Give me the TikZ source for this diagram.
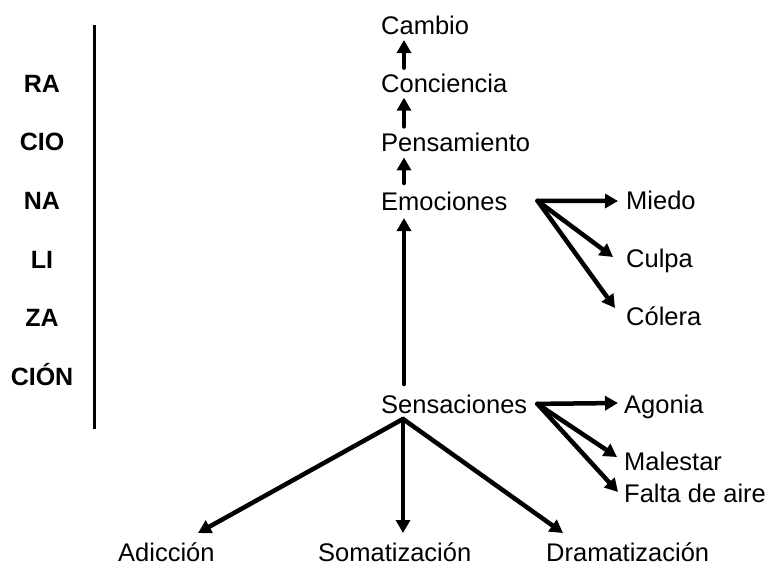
\documentclass[tikz,border=0pt]{standalone}
\usepackage{fontspec}
\setmainfont{Liberation Sans}
\usetikzlibrary{arrows.meta}
\tikzset{
  lbl/.style={font=\fontsize{25.5}{30}\selectfont, inner sep=0pt, anchor=base west},
  syl/.style={font=\fontsize{25}{30}\selectfont\bfseries, inner sep=0pt, anchor=base},
  arr/.style={line width=4.5pt, line cap=round, line join=round,
    -{Triangle[length=13pt,width=14pt]}},
}
\begin{document}
\begin{tikzpicture}[x=1pt,y=-1pt]
    \useasboundingbox (0,0) rectangle (769,566);
    % syllables on the left
    \foreach \s [count=\i] in {RA,CIO,NA,LI,ZA,CIÓN}
      \node [syl] (syl\i) at (42, {33.3+58.7*\i}) {\s};
    \draw [line width=3pt] (94,25) coordinate (bartop) -- (94,429) coordinate (barbot);
    % main column
    \node [lbl] (cam) at (381,34) {Cambio};
    \node [lbl] (con) at (381,92.7) {Conciencia};
    \node [lbl] (pen) at (381,151.4) {Pensamiento};
    \node [lbl] (emo) at (381,210) {Emociones};
    \node [lbl] (sen) at (381,413) {Sensaciones};
    % right branches
    \node [lbl] (mie) at (626,209) {Miedo};
    \node [lbl] (cul) at (626,267) {Culpa};
    \node [lbl] (col) at (626,325) {Cólera};
    \node [lbl] (ago) at (624,413) {Agonia};
    \node [lbl] (mal) at (624,470) {Malestar};
    \node [lbl] (fal) at (624,502) {Falta de aire};
    % bottom row
    \node [lbl] (adi) at (118,561) {Adicción};
    \node [lbl] (som) at (318,561) {Somatización};
    \node [lbl] (dra) at (546,561) {Dramatización};
    % upward chain
    \draw [arr] ([shift={(23,-25)}]con.base west) -- ([shift={(23,6)}]cam.base west);
    \draw [arr] ([shift={(23,-25)}]pen.base west) -- ([shift={(23,5)}]con.base west);
    \draw [arr] ([shift={(23,-27)}]emo.base west) -- ([shift={(23,6)}]pen.base west);
    \draw [arr] ([shift={(23,-29)}]sen.base west) -- ([shift={(23,8)}]emo.base west);
    % fans
    \coordinate (emoR) at ([xshift=30pt]emo.east);
    \coordinate (senR) at ([xshift=10pt]sen.east);
    \draw [arr] (emoR) -- ([shift={(-8,-8)}]mie.base west);
    \draw [arr] (emoR) -- ([shift={(-13,-10)}]cul.base west);
    \draw [arr] (emoR) -- ([shift={(-11,-17)}]col.base west);
    \draw [arr] (senR) -- ([shift={(-6,-10)}]ago.base west);
    \draw [arr] (senR) -- ([shift={(-7,-13)}]mal.base west);
    \draw [arr] (senR) -- ([shift={(-6,-10)}]fal.base west);
    % down to the bottom row
    \coordinate (apex) at ([shift={(22,6)}]sen.base west);
    \draw [arr] (apex) -- ([shift={(80,-28)}]adi.base west);
    \draw [arr] (apex) -- ([shift={(85,-28)}]som.base west);
    \draw [arr] (apex) -- ([shift={(17,-28)}]dra.base west);
\end{tikzpicture}
\end{document}
